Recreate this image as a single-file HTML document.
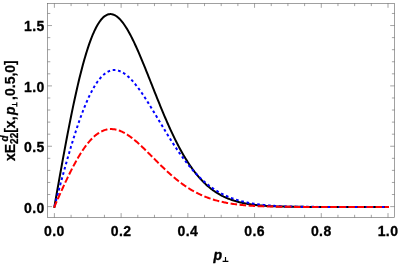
<!DOCTYPE html>
<html><head><meta charset="utf-8"><style>
html,body{margin:0;padding:0;background:#fff;overflow:hidden;}
svg{display:block;will-change:transform;font-family:"Liberation Sans",sans-serif;font-weight:bold;font-size:14px;fill:#000;}
</style></head><body>
<svg width="398" height="264" viewBox="0 0 398 264">
<rect width="398" height="264" fill="#fff"/>
<g fill="none" stroke-width="2" stroke-linejoin="round" stroke-linecap="square">
<path d="M54.40,206.95 L55.23,201.95 L56.07,197.17 L56.90,192.45 L57.74,187.74 L58.57,183.05 L59.40,178.37 L60.24,173.72 L61.07,169.08 L61.91,164.47 L62.74,159.89 L63.57,155.34 L64.41,150.82 L65.24,146.34 L66.08,141.90 L66.91,137.50 L67.74,133.14 L68.58,128.84 L69.41,124.58 L70.25,120.38 L71.08,116.23 L71.91,112.14 L72.75,108.12 L73.58,104.15 L74.42,100.25 L75.25,96.42 L76.08,92.66 L76.92,88.97 L77.75,85.35 L78.59,81.81 L79.42,78.35 L80.25,74.97 L81.09,71.66 L81.92,68.44 L82.76,65.31 L83.59,62.26 L84.42,59.30 L85.26,56.43 L86.09,53.64 L86.93,50.95 L87.76,48.35 L88.59,45.84 L89.43,43.43 L90.26,41.11 L91.10,38.88 L91.93,36.75 L92.76,34.72 L93.60,32.78 L94.43,30.94 L95.27,29.20 L96.10,27.55 L96.93,26.00 L97.77,24.55 L98.60,23.19 L99.44,21.93 L100.27,20.77 L101.10,19.70 L101.94,18.73 L102.77,17.85 L103.61,17.07 L104.44,16.38 L105.27,15.78 L106.11,15.28 L106.94,14.86 L107.78,14.54 L108.61,14.30 L109.44,14.16 L110.28,14.10 L111.11,14.12 L111.95,14.23 L112.78,14.42 L113.61,14.70 L114.45,15.05 L115.28,15.49 L116.12,16.00 L116.95,16.58 L117.78,17.24 L118.62,17.97 L119.45,18.77 L120.29,19.64 L121.12,20.58 L121.95,21.58 L122.79,22.65 L123.62,23.78 L124.46,24.96 L125.29,26.21 L126.12,27.51 L126.96,28.86 L127.79,30.27 L128.63,31.73 L129.46,33.23 L130.29,34.78 L131.13,36.38 L131.96,38.02 L132.80,39.70 L133.63,41.42 L134.46,43.17 L135.30,44.96 L136.13,46.78 L136.97,48.63 L137.80,50.51 L138.63,52.42 L139.47,54.36 L140.30,56.32 L141.14,58.29 L141.97,60.29 L142.80,62.31 L143.64,64.34 L144.47,66.39 L145.31,68.45 L146.14,70.53 L146.97,72.61 L147.81,74.70 L148.64,76.80 L149.48,78.90 L150.31,81.00 L151.14,83.11 L151.98,85.22 L152.81,87.32 L153.65,89.43 L154.48,91.53 L155.31,93.63 L156.15,95.72 L156.98,97.80 L157.82,99.87 L158.65,101.94 L159.48,103.99 L160.32,106.03 L161.15,108.06 L161.99,110.08 L162.82,112.08 L163.65,114.07 L164.49,116.04 L165.32,117.99 L166.16,119.92 L166.99,121.84 L167.82,123.74 L168.66,125.61 L169.49,127.47 L170.33,129.30 L171.16,131.11 L171.99,132.90 L172.83,134.67 L173.66,136.41 L174.50,138.13 L175.33,139.83 L176.16,141.50 L177.00,143.15 L177.83,144.77 L178.67,146.36 L179.50,147.93 L180.33,149.48 L181.17,151.00 L182.00,152.49 L182.84,153.96 L183.67,155.40 L184.50,156.81 L185.34,158.20 L186.17,159.56 L187.01,160.90 L187.84,162.20 L188.67,163.49 L189.51,164.74 L190.34,165.97 L191.18,167.18 L192.01,168.36 L192.84,169.51 L193.68,170.64 L194.51,171.74 L195.35,172.81 L196.18,173.87 L197.01,174.89 L197.85,175.90 L198.68,176.88 L199.52,177.83 L200.35,178.76 L201.18,179.67 L202.02,180.56 L202.85,181.42 L203.69,182.26 L204.52,183.08 L205.35,183.87 L206.19,184.65 L207.02,185.40 L207.86,186.13 L208.69,186.85 L209.52,187.54 L210.36,188.21 L211.19,188.87 L212.03,189.50 L212.86,190.12 L213.69,190.71 L214.53,191.30 L215.36,191.86 L216.20,192.40 L217.03,192.93 L217.86,193.45 L218.70,193.94 L219.53,194.42 L220.37,194.89 L221.20,195.34 L222.03,195.78 L222.87,196.20 L223.70,196.61 L224.54,197.00 L225.37,197.39 L226.20,197.76 L227.04,198.11 L227.87,198.46 L228.71,198.79 L229.54,199.11 L230.37,199.43 L231.21,199.73 L232.04,200.02 L232.88,200.30 L233.71,200.57 L234.54,200.83 L235.38,201.08 L236.21,201.32 L237.05,201.55 L237.88,201.78 L238.71,202.00 L239.55,202.20 L240.38,202.41 L241.22,202.60 L242.05,202.79 L242.88,202.97 L243.72,203.14 L244.55,203.30 L245.39,203.46 L246.22,203.62 L247.05,203.77 L247.89,203.91 L248.72,204.04 L249.56,204.18 L250.39,204.30 L251.22,204.42 L252.06,204.54 L252.89,204.65 L253.73,204.76 L254.56,204.86 L255.39,204.96 L256.23,205.05 L257.06,205.14 L257.90,205.23 L258.73,205.31 L259.56,205.39 L260.40,205.46 L261.23,205.54 L262.07,205.60 L262.90,205.67 L263.73,205.73 L264.57,205.79 L265.40,205.85 L266.24,205.91 L267.07,205.96 L267.90,206.01 L268.74,206.06 L269.57,206.10 L270.41,206.15 L271.24,206.19 L272.07,206.23 L272.91,206.27 L273.74,206.30 L274.58,206.34 L275.41,206.37 L276.24,206.40 L277.08,206.43 L277.91,206.46 L278.75,206.48 L279.58,206.51 L280.41,206.53 L281.25,206.56 L282.08,206.58 L282.92,206.60 L283.75,206.62 L284.58,206.64 L285.42,206.65 L286.25,206.67 L287.09,206.69 L287.92,206.70 L288.75,206.71 L289.59,206.73 L290.42,206.74 L291.26,206.75 L292.09,206.76 L292.92,206.77 L293.76,206.78 L294.59,206.79 L295.43,206.80 L296.26,206.81 L297.09,206.82 L297.93,206.83 L298.76,206.84 L299.60,206.84 L300.43,206.85 L301.26,206.85 L302.10,206.86 L302.93,206.87 L303.77,206.87 L304.60,206.88 L305.43,206.88 L306.27,206.88 L307.10,206.89 L307.94,206.89 L308.77,206.90 L309.60,206.90 L310.44,206.90 L311.27,206.91 L312.11,206.91 L312.94,206.91 L313.77,206.91 L314.61,206.92 L315.44,206.92 L316.28,206.92 L317.11,206.92 L317.94,206.92 L318.78,206.93 L319.61,206.93 L320.45,206.93 L321.28,206.93 L322.11,206.93 L322.95,206.93 L323.78,206.93 L324.62,206.93 L325.45,206.94 L326.28,206.94 L327.12,206.94 L327.95,206.94 L328.79,206.94 L329.62,206.94 L330.45,206.94 L331.29,206.94 L332.12,206.94 L332.96,206.94 L333.79,206.94 L334.62,206.94 L335.46,206.94 L336.29,206.94 L337.13,206.94 L337.96,206.95 L338.79,206.95 L339.63,206.95 L340.46,206.95 L341.30,206.95 L342.13,206.95 L342.96,206.95 L343.80,206.95 L344.63,206.95 L345.47,206.95 L346.30,206.95 L347.13,206.95 L347.97,206.95 L348.80,206.95 L349.64,206.95 L350.47,206.95 L351.30,206.95 L352.14,206.95 L352.97,206.95 L353.81,206.95 L354.64,206.95 L355.47,206.95 L356.31,206.95 L357.14,206.95 L357.98,206.95 L358.81,206.95 L359.64,206.95 L360.48,206.95 L361.31,206.95 L362.15,206.95 L362.98,206.95 L363.81,206.95 L364.65,206.95 L365.48,206.95 L366.32,206.95 L367.15,206.95 L367.98,206.95 L368.82,206.95 L369.65,206.95 L370.49,206.95 L371.32,206.95 L372.15,206.95 L372.99,206.95 L373.82,206.95 L374.66,206.95 L375.49,206.95 L376.32,206.95 L377.16,206.95 L377.99,206.95 L378.83,206.95 L379.66,206.95 L380.49,206.95 L381.33,206.95 L382.16,206.95 L383.00,206.95 L383.83,206.95 L384.66,206.95 L385.50,206.95 L386.33,206.95 L387.17,206.95 L388.00,206.95" stroke="#000"/>
<path d="M54.40,206.95 L55.23,203.60 L56.07,200.39 L56.90,197.24 L57.74,194.12 L58.57,191.01 L59.40,187.91 L60.24,184.82 L61.07,181.74 L61.91,178.68 L62.74,175.63 L63.57,172.61 L64.41,169.60 L65.24,166.61 L66.08,163.65 L66.91,160.71 L67.74,157.80 L68.58,154.91 L69.41,152.05 L70.25,149.23 L71.08,146.44 L71.91,143.68 L72.75,140.95 L73.58,138.27 L74.42,135.62 L75.25,133.01 L76.08,130.44 L76.92,127.92 L77.75,125.43 L78.59,123.00 L79.42,120.60 L80.25,118.26 L81.09,115.96 L81.92,113.71 L82.76,111.51 L83.59,109.37 L84.42,107.27 L85.26,105.23 L86.09,103.24 L86.93,101.30 L87.76,99.42 L88.59,97.60 L89.43,95.83 L90.26,94.12 L91.10,92.46 L91.93,90.87 L92.76,89.33 L93.60,87.85 L94.43,86.43 L95.27,85.07 L96.10,83.77 L96.93,82.53 L97.77,81.34 L98.60,80.22 L99.44,79.16 L100.27,78.16 L101.10,77.21 L101.94,76.33 L102.77,75.51 L103.61,74.74 L104.44,74.04 L105.27,73.39 L106.11,72.81 L106.94,72.28 L107.78,71.81 L108.61,71.39 L109.44,71.04 L110.28,70.74 L111.11,70.49 L111.95,70.30 L112.78,70.17 L113.61,70.09 L114.45,70.06 L115.28,70.09 L116.12,70.17 L116.95,70.30 L117.78,70.48 L118.62,70.71 L119.45,70.98 L120.29,71.31 L121.12,71.68 L121.95,72.10 L122.79,72.56 L123.62,73.07 L124.46,73.62 L125.29,74.21 L126.12,74.85 L126.96,75.52 L127.79,76.23 L128.63,76.98 L129.46,77.77 L130.29,78.59 L131.13,79.45 L131.96,80.34 L132.80,81.27 L133.63,82.22 L134.46,83.21 L135.30,84.22 L136.13,85.26 L136.97,86.33 L137.80,87.43 L138.63,88.55 L139.47,89.69 L140.30,90.85 L141.14,92.04 L141.97,93.25 L142.80,94.47 L143.64,95.72 L144.47,96.98 L145.31,98.25 L146.14,99.54 L146.97,100.85 L147.81,102.17 L148.64,103.50 L149.48,104.84 L150.31,106.19 L151.14,107.55 L151.98,108.91 L152.81,110.28 L153.65,111.66 L154.48,113.05 L155.31,114.44 L156.15,115.83 L156.98,117.22 L157.82,118.61 L158.65,120.01 L159.48,121.40 L160.32,122.80 L161.15,124.19 L161.99,125.58 L162.82,126.97 L163.65,128.35 L164.49,129.73 L165.32,131.10 L166.16,132.46 L166.99,133.82 L167.82,135.18 L168.66,136.52 L169.49,137.86 L170.33,139.18 L171.16,140.50 L171.99,141.81 L172.83,143.11 L173.66,144.39 L174.50,145.67 L175.33,146.93 L176.16,148.18 L177.00,149.42 L177.83,150.65 L178.67,151.86 L179.50,153.06 L180.33,154.25 L181.17,155.42 L182.00,156.57 L182.84,157.72 L183.67,158.84 L184.50,159.96 L185.34,161.05 L186.17,162.13 L187.01,163.20 L187.84,164.25 L188.67,165.28 L189.51,166.30 L190.34,167.31 L191.18,168.29 L192.01,169.26 L192.84,170.22 L193.68,171.15 L194.51,172.08 L195.35,172.98 L196.18,173.87 L197.01,174.74 L197.85,175.60 L198.68,176.44 L199.52,177.26 L200.35,178.07 L201.18,178.86 L202.02,179.64 L202.85,180.40 L203.69,181.14 L204.52,181.87 L205.35,182.59 L206.19,183.29 L207.02,183.97 L207.86,184.64 L208.69,185.29 L209.52,185.93 L210.36,186.55 L211.19,187.16 L212.03,187.75 L212.86,188.33 L213.69,188.90 L214.53,189.45 L215.36,189.99 L216.20,190.52 L217.03,191.03 L217.86,191.53 L218.70,192.02 L219.53,192.49 L220.37,192.95 L221.20,193.40 L222.03,193.84 L222.87,194.27 L223.70,194.68 L224.54,195.09 L225.37,195.48 L226.20,195.86 L227.04,196.23 L227.87,196.59 L228.71,196.94 L229.54,197.28 L230.37,197.61 L231.21,197.93 L232.04,198.25 L232.88,198.55 L233.71,198.84 L234.54,199.13 L235.38,199.40 L236.21,199.67 L237.05,199.93 L237.88,200.18 L238.71,200.43 L239.55,200.66 L240.38,200.89 L241.22,201.11 L242.05,201.33 L242.88,201.54 L243.72,201.74 L244.55,201.94 L245.39,202.12 L246.22,202.31 L247.05,202.48 L247.89,202.65 L248.72,202.82 L249.56,202.98 L250.39,203.13 L251.22,203.28 L252.06,203.43 L252.89,203.57 L253.73,203.70 L254.56,203.83 L255.39,203.96 L256.23,204.08 L257.06,204.20 L257.90,204.31 L258.73,204.42 L259.56,204.52 L260.40,204.62 L261.23,204.72 L262.07,204.81 L262.90,204.90 L263.73,204.99 L264.57,205.07 L265.40,205.15 L266.24,205.23 L267.07,205.31 L267.90,205.38 L268.74,205.45 L269.57,205.51 L270.41,205.58 L271.24,205.64 L272.07,205.70 L272.91,205.75 L273.74,205.81 L274.58,205.86 L275.41,205.91 L276.24,205.96 L277.08,206.00 L277.91,206.04 L278.75,206.09 L279.58,206.13 L280.41,206.17 L281.25,206.20 L282.08,206.24 L282.92,206.27 L283.75,206.30 L284.58,206.33 L285.42,206.36 L286.25,206.39 L287.09,206.42 L287.92,206.45 L288.75,206.47 L289.59,206.49 L290.42,206.52 L291.26,206.54 L292.09,206.56 L292.92,206.58 L293.76,206.60 L294.59,206.61 L295.43,206.63 L296.26,206.65 L297.09,206.66 L297.93,206.68 L298.76,206.69 L299.60,206.71 L300.43,206.72 L301.26,206.73 L302.10,206.74 L302.93,206.75 L303.77,206.76 L304.60,206.77 L305.43,206.78 L306.27,206.79 L307.10,206.80 L307.94,206.81 L308.77,206.82 L309.60,206.82 L310.44,206.83 L311.27,206.84 L312.11,206.84 L312.94,206.85 L313.77,206.85 L314.61,206.86 L315.44,206.86 L316.28,206.87 L317.11,206.87 L317.94,206.88 L318.78,206.88 L319.61,206.89 L320.45,206.89 L321.28,206.89 L322.11,206.90 L322.95,206.90 L323.78,206.90 L324.62,206.90 L325.45,206.91 L326.28,206.91 L327.12,206.91 L327.95,206.91 L328.79,206.92 L329.62,206.92 L330.45,206.92 L331.29,206.92 L332.12,206.92 L332.96,206.93 L333.79,206.93 L334.62,206.93 L335.46,206.93 L336.29,206.93 L337.13,206.93 L337.96,206.93 L338.79,206.93 L339.63,206.93 L340.46,206.94 L341.30,206.94 L342.13,206.94 L342.96,206.94 L343.80,206.94 L344.63,206.94 L345.47,206.94 L346.30,206.94 L347.13,206.94 L347.97,206.94 L348.80,206.94 L349.64,206.94 L350.47,206.94 L351.30,206.94 L352.14,206.94 L352.97,206.94 L353.81,206.94 L354.64,206.95 L355.47,206.95 L356.31,206.95 L357.14,206.95 L357.98,206.95 L358.81,206.95 L359.64,206.95 L360.48,206.95 L361.31,206.95 L362.15,206.95 L362.98,206.95 L363.81,206.95 L364.65,206.95 L365.48,206.95 L366.32,206.95 L367.15,206.95 L367.98,206.95 L368.82,206.95 L369.65,206.95 L370.49,206.95 L371.32,206.95 L372.15,206.95 L372.99,206.95 L373.82,206.95 L374.66,206.95 L375.49,206.95 L376.32,206.95 L377.16,206.95 L377.99,206.95 L378.83,206.95 L379.66,206.95 L380.49,206.95 L381.33,206.95 L382.16,206.95 L383.00,206.95 L383.83,206.95 L384.66,206.95 L385.50,206.95 L386.33,206.95 L387.17,206.95 L388.00,206.95" stroke="#0000ff" stroke-dasharray="0.7 4.720" stroke-dashoffset="-1.8"/>
<path d="M54.40,206.95 L55.23,204.91 L56.07,202.94 L56.90,201.02 L57.74,199.12 L58.57,197.24 L59.40,195.37 L60.24,193.51 L61.07,191.67 L61.91,189.83 L62.74,188.00 L63.57,186.19 L64.41,184.39 L65.24,182.60 L66.08,180.83 L66.91,179.08 L67.74,177.34 L68.58,175.62 L69.41,173.93 L70.25,172.25 L71.08,170.59 L71.91,168.96 L72.75,167.35 L73.58,165.76 L74.42,164.21 L75.25,162.67 L76.08,161.17 L76.92,159.69 L77.75,158.24 L78.59,156.82 L79.42,155.43 L80.25,154.07 L81.09,152.75 L81.92,151.45 L82.76,150.19 L83.59,148.96 L84.42,147.77 L85.26,146.61 L86.09,145.49 L86.93,144.40 L87.76,143.35 L88.59,142.33 L89.43,141.35 L90.26,140.41 L91.10,139.51 L91.93,138.64 L92.76,137.81 L93.60,137.02 L94.43,136.26 L95.27,135.55 L96.10,134.87 L96.93,134.23 L97.77,133.63 L98.60,133.06 L99.44,132.54 L100.27,132.05 L101.10,131.60 L101.94,131.19 L102.77,130.81 L103.61,130.47 L104.44,130.17 L105.27,129.91 L106.11,129.68 L106.94,129.49 L107.78,129.34 L108.61,129.22 L109.44,129.13 L110.28,129.08 L111.11,129.06 L111.95,129.08 L112.78,129.13 L113.61,129.21 L114.45,129.33 L115.28,129.47 L116.12,129.65 L116.95,129.85 L117.78,130.09 L118.62,130.36 L119.45,130.65 L120.29,130.97 L121.12,131.32 L121.95,131.69 L122.79,132.09 L123.62,132.52 L124.46,132.97 L125.29,133.44 L126.12,133.93 L126.96,134.45 L127.79,134.99 L128.63,135.55 L129.46,136.13 L130.29,136.73 L131.13,137.34 L131.96,137.98 L132.80,138.63 L133.63,139.29 L134.46,139.98 L135.30,140.67 L136.13,141.38 L136.97,142.11 L137.80,142.84 L138.63,143.59 L139.47,144.35 L140.30,145.11 L141.14,145.89 L141.97,146.68 L142.80,147.47 L143.64,148.27 L144.47,149.08 L145.31,149.89 L146.14,150.71 L146.97,151.54 L147.81,152.36 L148.64,153.19 L149.48,154.03 L150.31,154.86 L151.14,155.70 L151.98,156.54 L152.81,157.38 L153.65,158.22 L154.48,159.06 L155.31,159.89 L156.15,160.73 L156.98,161.56 L157.82,162.39 L158.65,163.22 L159.48,164.04 L160.32,164.86 L161.15,165.68 L161.99,166.49 L162.82,167.29 L163.65,168.09 L164.49,168.89 L165.32,169.68 L166.16,170.46 L166.99,171.23 L167.82,172.00 L168.66,172.76 L169.49,173.51 L170.33,174.25 L171.16,174.99 L171.99,175.72 L172.83,176.43 L173.66,177.14 L174.50,177.84 L175.33,178.53 L176.16,179.22 L177.00,179.89 L177.83,180.55 L178.67,181.20 L179.50,181.85 L180.33,182.48 L181.17,183.10 L182.00,183.72 L182.84,184.32 L183.67,184.91 L184.50,185.49 L185.34,186.06 L186.17,186.63 L187.01,187.18 L187.84,187.72 L188.67,188.25 L189.51,188.77 L190.34,189.28 L191.18,189.78 L192.01,190.27 L192.84,190.75 L193.68,191.21 L194.51,191.67 L195.35,192.12 L196.18,192.56 L197.01,192.99 L197.85,193.41 L198.68,193.82 L199.52,194.22 L200.35,194.61 L201.18,194.99 L202.02,195.37 L202.85,195.73 L203.69,196.08 L204.52,196.43 L205.35,196.77 L206.19,197.09 L207.02,197.41 L207.86,197.72 L208.69,198.03 L209.52,198.32 L210.36,198.61 L211.19,198.89 L212.03,199.16 L212.86,199.43 L213.69,199.68 L214.53,199.93 L215.36,200.18 L216.20,200.41 L217.03,200.64 L217.86,200.87 L218.70,201.08 L219.53,201.29 L220.37,201.49 L221.20,201.69 L222.03,201.88 L222.87,202.07 L223.70,202.25 L224.54,202.42 L225.37,202.59 L226.20,202.76 L227.04,202.92 L227.87,203.07 L228.71,203.22 L229.54,203.36 L230.37,203.50 L231.21,203.64 L232.04,203.77 L232.88,203.89 L233.71,204.01 L234.54,204.13 L235.38,204.24 L236.21,204.35 L237.05,204.46 L237.88,204.56 L238.71,204.66 L239.55,204.75 L240.38,204.85 L241.22,204.93 L242.05,205.02 L242.88,205.10 L243.72,205.18 L244.55,205.26 L245.39,205.33 L246.22,205.40 L247.05,205.47 L247.89,205.53 L248.72,205.60 L249.56,205.66 L250.39,205.71 L251.22,205.77 L252.06,205.82 L252.89,205.87 L253.73,205.92 L254.56,205.97 L255.39,206.02 L256.23,206.06 L257.06,206.10 L257.90,206.14 L258.73,206.18 L259.56,206.21 L260.40,206.25 L261.23,206.28 L262.07,206.32 L262.90,206.35 L263.73,206.38 L264.57,206.40 L265.40,206.43 L266.24,206.46 L267.07,206.48 L267.90,206.50 L268.74,206.53 L269.57,206.55 L270.41,206.57 L271.24,206.59 L272.07,206.61 L272.91,206.62 L273.74,206.64 L274.58,206.66 L275.41,206.67 L276.24,206.69 L277.08,206.70 L277.91,206.71 L278.75,206.72 L279.58,206.74 L280.41,206.75 L281.25,206.76 L282.08,206.77 L282.92,206.78 L283.75,206.79 L284.58,206.80 L285.42,206.81 L286.25,206.81 L287.09,206.82 L287.92,206.83 L288.75,206.83 L289.59,206.84 L290.42,206.85 L291.26,206.85 L292.09,206.86 L292.92,206.86 L293.76,206.87 L294.59,206.87 L295.43,206.88 L296.26,206.88 L297.09,206.89 L297.93,206.89 L298.76,206.89 L299.60,206.90 L300.43,206.90 L301.26,206.90 L302.10,206.91 L302.93,206.91 L303.77,206.91 L304.60,206.91 L305.43,206.91 L306.27,206.92 L307.10,206.92 L307.94,206.92 L308.77,206.92 L309.60,206.92 L310.44,206.93 L311.27,206.93 L312.11,206.93 L312.94,206.93 L313.77,206.93 L314.61,206.93 L315.44,206.93 L316.28,206.93 L317.11,206.94 L317.94,206.94 L318.78,206.94 L319.61,206.94 L320.45,206.94 L321.28,206.94 L322.11,206.94 L322.95,206.94 L323.78,206.94 L324.62,206.94 L325.45,206.94 L326.28,206.94 L327.12,206.94 L327.95,206.94 L328.79,206.94 L329.62,206.94 L330.45,206.95 L331.29,206.95 L332.12,206.95 L332.96,206.95 L333.79,206.95 L334.62,206.95 L335.46,206.95 L336.29,206.95 L337.13,206.95 L337.96,206.95 L338.79,206.95 L339.63,206.95 L340.46,206.95 L341.30,206.95 L342.13,206.95 L342.96,206.95 L343.80,206.95 L344.63,206.95 L345.47,206.95 L346.30,206.95 L347.13,206.95 L347.97,206.95 L348.80,206.95 L349.64,206.95 L350.47,206.95 L351.30,206.95 L352.14,206.95 L352.97,206.95 L353.81,206.95 L354.64,206.95 L355.47,206.95 L356.31,206.95 L357.14,206.95 L357.98,206.95 L358.81,206.95 L359.64,206.95 L360.48,206.95 L361.31,206.95 L362.15,206.95 L362.98,206.95 L363.81,206.95 L364.65,206.95 L365.48,206.95 L366.32,206.95 L367.15,206.95 L367.98,206.95 L368.82,206.95 L369.65,206.95 L370.49,206.95 L371.32,206.95 L372.15,206.95 L372.99,206.95 L373.82,206.95 L374.66,206.95 L375.49,206.95 L376.32,206.95 L377.16,206.95 L377.99,206.95 L378.83,206.95 L379.66,206.95 L380.49,206.95 L381.33,206.95 L382.16,206.95 L383.00,206.95 L383.83,206.95 L384.66,206.95 L385.50,206.95 L386.33,206.95 L387.17,206.95 L388.00,206.95" stroke="#ff0000" stroke-dasharray="4.55 4.52" stroke-dashoffset="-0.4"/>
</g>
<rect x="47.6" y="3.4" width="347.0" height="214.1" fill="none" stroke="#666" stroke-width="0.62"/>
<path d="M54.40,217.5 v-4.4 M54.40,3.4 v4.4 M71.08,217.5 v-2.7 M71.08,3.4 v2.7 M87.76,217.5 v-2.7 M87.76,3.4 v2.7 M104.44,217.5 v-2.7 M104.44,3.4 v2.7 M121.12,217.5 v-4.4 M121.12,3.4 v4.4 M137.80,217.5 v-2.7 M137.80,3.4 v2.7 M154.48,217.5 v-2.7 M154.48,3.4 v2.7 M171.16,217.5 v-2.7 M171.16,3.4 v2.7 M187.84,217.5 v-4.4 M187.84,3.4 v4.4 M204.52,217.5 v-2.7 M204.52,3.4 v2.7 M221.20,217.5 v-2.7 M221.20,3.4 v2.7 M237.88,217.5 v-2.7 M237.88,3.4 v2.7 M254.56,217.5 v-4.4 M254.56,3.4 v4.4 M271.24,217.5 v-2.7 M271.24,3.4 v2.7 M287.92,217.5 v-2.7 M287.92,3.4 v2.7 M304.60,217.5 v-2.7 M304.60,3.4 v2.7 M321.28,217.5 v-4.4 M321.28,3.4 v4.4 M337.96,217.5 v-2.7 M337.96,3.4 v2.7 M354.64,217.5 v-2.7 M354.64,3.4 v2.7 M371.32,217.5 v-2.7 M371.32,3.4 v2.7 M388.00,217.5 v-4.4 M388.00,3.4 v4.4 M47.6,206.60 h4.4 M394.6,206.60 h-4.4 M47.6,194.53 h2.7 M394.6,194.53 h-2.7 M47.6,182.46 h2.7 M394.6,182.46 h-2.7 M47.6,170.39 h2.7 M394.6,170.39 h-2.7 M47.6,158.32 h2.7 M394.6,158.32 h-2.7 M47.6,146.25 h4.4 M394.6,146.25 h-4.4 M47.6,134.18 h2.7 M394.6,134.18 h-2.7 M47.6,122.11 h2.7 M394.6,122.11 h-2.7 M47.6,110.04 h2.7 M394.6,110.04 h-2.7 M47.6,97.97 h2.7 M394.6,97.97 h-2.7 M47.6,85.90 h4.4 M394.6,85.90 h-4.4 M47.6,73.83 h2.7 M394.6,73.83 h-2.7 M47.6,61.76 h2.7 M394.6,61.76 h-2.7 M47.6,49.69 h2.7 M394.6,49.69 h-2.7 M47.6,37.62 h2.7 M394.6,37.62 h-2.7 M47.6,25.55 h4.4 M394.6,25.55 h-4.4 M47.6,13.48 h2.7 M394.6,13.48 h-2.7" fill="none" stroke="#666" stroke-width="0.6"/>
<g stroke="#000" stroke-width="0.3" letter-spacing="0.4"><text x="54.40" y="236" text-anchor="middle">0.0</text><text x="121.12" y="236" text-anchor="middle">0.2</text><text x="187.84" y="236" text-anchor="middle">0.4</text><text x="254.56" y="236" text-anchor="middle">0.6</text><text x="321.28" y="236" text-anchor="middle">0.8</text><text x="388.00" y="236" text-anchor="middle">1.0</text></g>
<g stroke="#000" stroke-width="0.3" letter-spacing="0.4"><text x="44.7" y="212.50" text-anchor="end">0.0</text><text x="44.7" y="152.15" text-anchor="end">0.5</text><text x="44.7" y="91.80" text-anchor="end">1.0</text><text x="44.7" y="31.45" text-anchor="end">1.5</text></g>
<text x="213.5" y="259.8" font-size="14px" font-style="italic" stroke="#000" stroke-width="0.4">p</text>
<path d="M222.6,261.4 H228.4 M225.5,256.9 V261.4" stroke="#000" stroke-width="1.15" fill="none"/>
<g transform="translate(14.5,161) rotate(-90)" stroke="#000" stroke-width="0.25">
<text x="0" y="0">xE<tspan font-size="10px" dy="3.2">22</tspan><tspan font-size="10px" font-style="italic" dy="-9.5" dx="-8.8">d</tspan><tspan x="28.2" dy="6.3">[x,</tspan></text>
<text x="45.9" y="0" font-style="italic">p</text>
<path d="M54.2,2.3 H58.8 M56.5,-2.6 V2.3" stroke="#000" stroke-width="1.15" fill="none"/>
<text x="61.1" y="0">,0.5,0]</text>
</g>
</svg>
</body></html>
